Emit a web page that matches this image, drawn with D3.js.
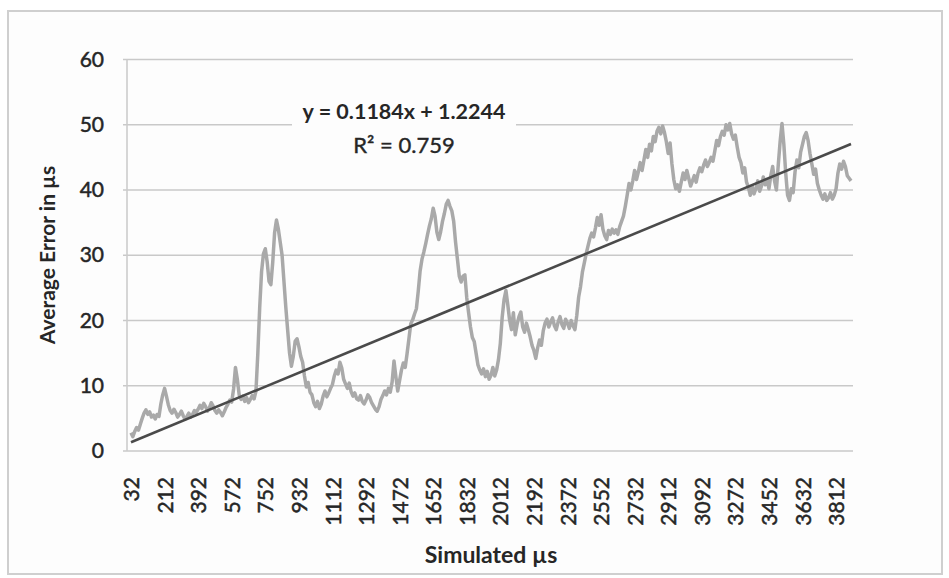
<!DOCTYPE html>
<html>
<head>
<meta charset="utf-8">
<script src="https://cdn.jsdelivr.net/npm/d3@7"></script>
<style>
  body { margin: 0; background: #fff; }
  svg { display: block; font-family: Lato, "Open Sans", sans-serif; }
</style>
</head>
<body>
<svg id="chart"></svg>
<script>

// category axis: simulated µs, one point every 10 µs
const categories = d3.range(32, 3900, 10);

// average error in µs
const avgError = [
    2.8, 2.2, 3.0, 3.6, 3.2, 4.1, 5.0, 5.8, 6.3, 5.6, 6.0, 5.2, 5.5, 4.9, 5.6, 5.3, 7.2, 8.6,
    9.6, 8.4, 7.1, 6.2, 5.8, 6.4, 5.9, 5.2, 5.6, 6.1, 5.4, 4.9, 5.3, 5.8, 5.2, 5.6, 6.2, 5.9,
    6.4, 7.0, 6.5, 7.3, 6.8, 6.1, 6.6, 7.4, 6.9, 6.2, 5.8, 6.3, 5.9, 5.4, 6.0, 6.7, 7.2, 7.8,
    7.5, 9.5, 12.8, 11.0, 8.6, 7.9, 8.4, 7.6, 8.2, 7.4, 7.9, 8.5, 8.0, 9.2, 15.0, 22.0, 27.5, 30.2,
    31.0, 29.0, 26.0, 25.5, 29.0, 33.5, 35.4, 34.0, 32.0, 30.0, 26.0, 22.0, 18.5, 15.0, 13.0, 14.5, 16.8, 17.2,
    16.0, 14.5, 13.6, 11.5, 9.8, 10.5, 9.0, 8.6, 7.4, 6.8, 7.6, 6.5, 7.2, 8.4, 9.2, 8.3, 8.9, 9.6,
    10.2, 11.5, 12.4, 11.8, 13.6, 12.7, 11.0, 10.3, 9.6, 10.4, 9.1, 8.4, 8.9, 8.0, 7.8, 8.5, 7.6, 7.2,
    7.8, 8.6, 8.2, 7.4, 6.9, 6.4, 6.1, 6.8, 7.9, 8.5, 9.2, 8.6, 9.6, 9.0, 10.6, 13.8, 11.4, 9.2,
    10.8, 12.4, 13.5, 12.8, 14.9, 17.2, 19.5, 20.1, 21.0, 21.8, 24.5, 27.6, 29.4, 30.5, 31.8, 33.2, 34.5, 35.6,
    37.2, 36.0, 33.5, 32.4, 33.6, 35.2, 36.4, 37.8, 38.4, 37.5, 36.8, 35.2, 32.0, 29.4, 26.8, 25.9, 26.8, 27.0,
    23.5, 21.2, 19.0, 17.4, 16.8, 15.0, 13.2, 12.4, 11.8, 12.6, 11.4, 12.2, 11.0, 11.6, 12.8, 11.5, 12.4, 14.0,
    16.5, 20.5, 23.2, 24.6, 22.4, 20.0, 18.6, 21.2, 17.8, 19.4, 20.6, 21.3, 19.0, 18.2, 19.6, 18.6, 17.5, 16.2,
    15.4, 14.2, 15.8, 17.0, 16.2, 18.4, 19.6, 20.2, 19.0, 19.8, 20.4, 19.2, 18.6, 19.8, 20.6, 19.4, 18.8, 20.2,
    19.6, 18.8, 20.0, 19.2, 18.6, 20.8, 23.6, 25.2, 27.4, 28.8, 30.2, 31.4, 32.6, 33.4, 32.8, 34.2, 35.8, 34.6,
    36.2, 34.0, 33.0, 32.4, 33.8, 33.2, 34.0, 33.4, 33.9, 33.2, 34.4, 35.2, 36.0, 37.5, 39.2, 41.0, 40.0, 41.4,
    43.0, 41.6, 42.8, 44.2, 43.0, 44.6, 46.2, 45.0, 47.0, 46.0, 48.2, 47.4, 49.0, 49.6, 48.6, 49.8, 48.8, 47.4,
    45.6, 47.2, 44.0, 41.6, 40.2, 40.8, 39.8, 41.2, 42.6, 41.6, 43.0, 41.8, 40.6, 41.4, 42.2, 41.2, 42.6, 43.4,
    42.8, 43.8, 44.6, 43.6, 44.2, 45.0, 44.4, 46.0, 47.6, 46.8, 48.2, 49.0, 48.4, 50.0, 49.2, 50.2, 48.6, 47.8,
    48.4, 46.6, 45.0, 44.2, 42.6, 43.4, 41.2, 40.4, 39.2, 40.6, 39.4, 40.2, 41.4, 39.8, 40.6, 42.0, 40.8, 41.6,
    40.2, 42.2, 43.6, 41.4, 40.0, 43.8, 47.4, 50.2, 47.0, 42.6, 39.2, 38.4, 40.2, 39.6, 42.8, 44.6, 43.4, 45.8,
    47.0, 48.2, 48.8, 47.6, 45.6, 44.0, 42.4, 43.2, 41.0, 40.0, 39.2, 38.6, 39.4, 38.4, 38.8, 39.6, 38.6, 39.2,
    40.2, 42.6, 44.0, 43.2, 44.4, 43.6, 42.2, 41.8, 41.4
];

const xTickLabels = [32, 212, 392, 572, 752, 932, 1112, 1292, 1472, 1652, 1832,
    2012, 2192, 2372, 2552, 2732, 2912, 3092, 3272, 3452, 3632, 3812];
const yTicks = [0, 10, 20, 30, 40, 50, 60];

// linear trendline as printed on the chart (x = point number, 1-based)
const trendSlope = 0.1184;
const trendIntercept = 1.2244;
const trendR2 = 0.759;

let svgWidth = 949;
let svgHeight = 578;
let textColor = "#262626";

const svg = d3.select("#chart")
    .attr("width", svgWidth)
    .attr("height", svgHeight);

// chart frame
svg.append("rect")
    .attr("x", 8).attr("y", 11)
    .attr("width", 934).attr("height", 563)
    .attr("fill", "#fdfdfd")
    .attr("stroke", "#cfcfcf")
    .attr("stroke-width", 2);

let xScale = d3.scalePoint().domain(categories).range([131, 851]);
let yScale = d3.scaleLinear().domain([0, 60]).range([451, 59.5]);

// horizontal gridlines
svg.append("g")
    .selectAll("line")
    .data(yTicks)
    .join("line")
    .attr("x1", 123).attr("x2", 853)
    .attr("y1", d => yScale(d)).attr("y2", d => yScale(d))
    .attr("stroke", "#c9c9c9")
    .attr("stroke-width", 1.6);

// y axis line
svg.append("line")
    .attr("x1", 127).attr("x2", 127)
    .attr("y1", yScale(60)).attr("y2", yScale(0))
    .attr("stroke", "#cccccc")
    .attr("stroke-width", 1.6);

// y axis labels
const yAxis = svg.append("g")
    .attr("class", "y axis")
    .attr("transform", "translate(104,0)")
    .call(d3.axisLeft(yScale).tickValues(yTicks).tickSize(0).tickPadding(0));
yAxis.select(".domain").remove();
yAxis.selectAll("text")
    .attr("font-size", 21)
    .attr("font-family", "Lato, 'Open Sans', sans-serif")
    .attr("fill", textColor)
    .attr("stroke", textColor)
    .attr("stroke-width", 0.5);

// x axis labels, rotated
const xAxis = svg.append("g")
    .attr("class", "x axis")
    .attr("transform", "translate(0,477)")
    .call(d3.axisBottom(xScale).tickValues(xTickLabels).tickSize(0).tickPadding(0));
xAxis.select(".domain").remove();
xAxis.selectAll("text")
    .attr("font-size", 21)
    .attr("font-family", "Lato, 'Open Sans', sans-serif")
    .attr("fill", textColor)
    .attr("stroke", textColor)
    .attr("stroke-width", 0.5)
    .attr("transform", "rotate(-90)")
    .attr("text-anchor", "end")
    .attr("x", 0)
    .attr("y", 0)
    .attr("dy", "0.36em");

// data line
let line = d3.line()
    .x((d, i) => xScale(categories[i]))
    .y(d => yScale(d));

svg.append("path")
    .datum(avgError)
    .attr("fill", "none")
    .attr("stroke", "#a9a9a9")
    .attr("stroke-width", 3.5)
    .attr("stroke-linejoin", "round")
    .attr("d", line);

// trendline
const n = categories.length;
svg.append("line")
    .attr("x1", xScale(categories[0]))
    .attr("y1", yScale(trendSlope * 1 + trendIntercept))
    .attr("x2", xScale(categories[n - 1]))
    .attr("y2", yScale(trendSlope * n + trendIntercept))
    .attr("stroke", "#4a4a4a")
    .attr("stroke-width", 2.6);

// equation label
svg.append("rect")
    .attr("x", 292).attr("y", 100)
    .attr("width", 224).attr("height", 60)
    .attr("fill", "#fdfdfd");

svg.append("text")
    .attr("x", 404).attr("y", 119)
    .attr("text-anchor", "middle")
    .attr("font-size", 21.5)
    .attr("font-weight", "bold")
    .attr("fill", textColor)
    .text(`y = ${trendSlope}x + ${trendIntercept}`);

svg.append("text")
    .attr("x", 404).attr("y", 153)
    .attr("text-anchor", "middle")
    .attr("font-size", 22)
    .attr("fill", textColor)
    .attr("stroke", textColor)
    .attr("stroke-width", 0.4)
    .text(`R² = ${trendR2}`);

// axis titles
svg.append("text")
    .attr("x", 491).attr("y", 563)
    .attr("text-anchor", "middle")
    .attr("font-size", 23)
    .attr("font-weight", "bold")
    .attr("fill", textColor)
    .text("Simulated µs");

svg.append("text")
    .attr("transform", "translate(55,255) rotate(-90)")
    .attr("text-anchor", "middle")
    .attr("font-size", 21)
    .attr("font-weight", "bold")
    .attr("fill", textColor)
    .text("Average Error in µs");

</script>
</body>
</html>
